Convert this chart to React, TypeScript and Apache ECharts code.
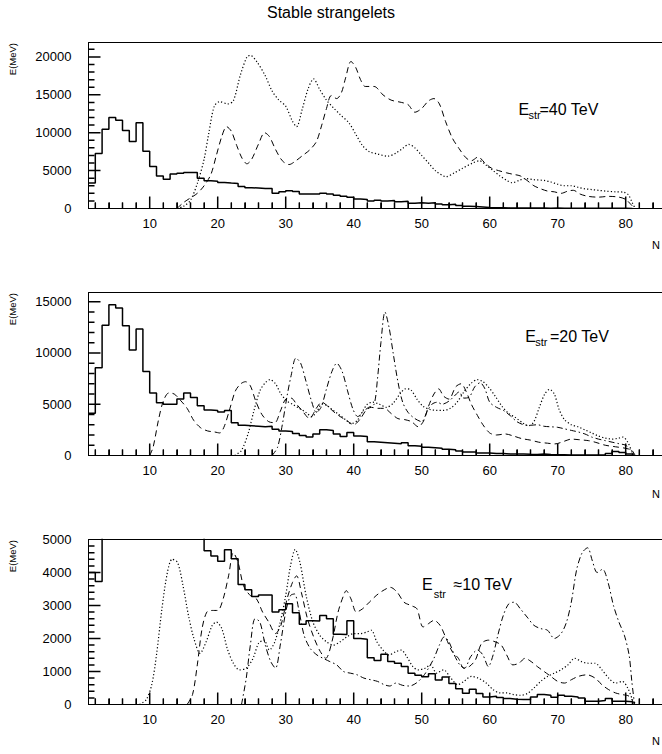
import React, { useEffect, useRef } from "react";
import * as echarts from "echarts";

// ---------- DATA ----------
const FIRST_BIN = 1; // left edge of first histogram bin (N)

// solid histograms (bin N = FIRST_BIN + index)
const hist40 = [3350, 7250, 10450, 12000, 11650, 10300, 8850, 11300, 7550, 5550, 4300, 3870, 4550, 4650, 4750, 4750, 4000, 3650, 3600, 3420, 3350, 3300, 2900, 2750, 2700, 2650, 2650, 2000, 2200, 2350, 2250, 1900, 1900, 1900, 2000, 1900, 1750, 1600, 1500, 1250, 1200, 1000, 1100, 1000, 1050, 900, 950, 700, 750, 700, 750, 600, 500, 550, 400, 300, 250, 200, 120, 100, 100, 80, 80, 60, 60, 50, 60, 40, 50, 40, 40, 30, 30, 20, 20, 30, 20, 20, 20, 10];
const hist20 = [4130, 8550, 12700, 14700, 14400, 12650, 10300, 12350, 8200, 6100, 5150, 5000, 5000, 5500, 6100, 5650, 4850, 4450, 4400, 4250, 4400, 3200, 2950, 2900, 2850, 2800, 2850, 2550, 2400, 2350, 2150, 1950, 1800, 2100, 2500, 2450, 2100, 1850, 2250, 1900, 1850, 1350, 1300, 1250, 1200, 1150, 1250, 950, 900, 800, 750, 700, 600, 550, 450, 350, 350, 250, 250, 200, 200, 150, 150, 150, 120, 100, 150, 100, 80, 80, 60, 60, 50, 40, 40, 60, 200, 400, 300, 150];
const hist10 = [4000, 3730, 7000, 9500, 10500, 10000, 9000, 8500, 8800, 7500, 6800, 6300, 6000, 5800, 5600, 5400, 5200, 4660, 4500, 4340, 4690, 4420, 3640, 3480, 3270, 3320, 3320, 2800, 2870, 3050, 2780, 2430, 2540, 2530, 2700, 2600, 2130, 2120, 2540, 2000, 1980, 1420, 1330, 1520, 1300, 1250, 1150, 950, 890, 840, 930, 740, 830, 640, 480, 340, 460, 330, 230, 250, 210, 180, 160, 150, 150, 230, 300, 280, 220, 280, 250, 230, 200, 100, 100, 120, 180, 100, 100, 80];

// panel 1 (40 TeV) curves [N, E]
const dotted40 = [[14,0],[15,300],[16,1100],[17,3300],[18,6500],[18.7,10000],[19.5,13500],[20.3,14100],[21.5,13800],[22.3,14200],[23.3,17500],[24.3,20000],[24.8,20200],[25.8,19300],[27,17500],[28,15500],[29,14300],[30,13500],[31,11500],[31.6,10800],[32.4,13000],[33.3,15800],[34.1,17100],[35,15700],[36,14300],[37,13300],[38,12400],[39.3,11300],[40.3,9800],[41.3,8300],[42.3,7500],[43.5,7200],[45,6900],[46.2,7300],[47.3,8000],[48.1,8450],[49,8000],[50,7000],[51,6000],[52,5000],[53.6,4200],[54.8,4700],[56,5300],[57.5,6000],[58.5,6300],[59.5,5700],[60.5,5000],[61.5,4300],[62.5,3700],[63.3,3400],[64.3,3700],[65.2,3950],[66.5,3800],[68,3700],[69,3500],[70,3200],[71,3000],[72,3000],[73,2800],[74,2600],[75,2500],[76,2400],[77,2300],[78.5,2200],[79.7,2150],[80.4,1800],[81,700],[81.4,0]];
const dashed40 = [[14,0],[15,800],[16,1400],[17,2000],[18,3000],[19,4500],[19.8,7000],[20.6,9500],[21.3,10800],[22,10200],[22.8,8300],[23.6,6600],[24.3,5900],[25,6500],[26,8500],[26.9,10000],[27.6,9500],[28.5,7800],[29.5,6300],[30.5,5800],[31.5,6300],[32.5,7000],[33.5,7700],[34.5,8800],[35.3,11000],[36,13200],[36.7,14900],[37.5,14500],[38.2,15300],[38.8,17200],[39.6,19400],[40.3,18600],[41,17000],[41.7,16100],[43,16100],[44.3,15000],[45.5,14300],[47,14000],[48,13700],[49,12700],[50,13200],[51,14200],[51.8,14500],[52.6,13800],[53.5,11500],[54.5,9300],[55.5,7900],[56.5,6700],[57.3,6300],[58.3,6800],[59.3,6000],[60.3,5300],[61.3,5000],[62.5,4700],[63.5,4500],[64.5,4300],[65.5,3700],[66.5,3000],[67.5,2600],[68.5,2300],[69.5,2200],[70.5,2000],[71.5,2300],[72.3,2400],[73.3,1900],[74.5,1600],[76,1500],[77.5,1600],[79,1500],[80,1200],[80.8,500],[81.3,0]];

// panel 2 (20 TeV) curves
const dashed20 = [[10,0],[10.5,800],[11.3,3500],[12,5300],[12.8,6100],[13.6,6000],[14.5,5400],[15.5,4600],[16.5,3400],[17.5,2700],[18.5,2400],[19.5,2300],[20.3,2200],[21,2900],[21.8,4600],[22.6,6300],[23.4,7000],[24.1,7200],[24.8,6800],[25.6,5300],[26.5,4000],[27.5,3300],[28.4,3200],[29.2,4300],[30,5500],[30.8,5600],[31.6,5000],[32.5,4300],[33.5,3600],[34.5,4600],[35.3,5200],[36.2,4800],[37,4300],[38,3800],[39,3400],[40,3000],[41,3600],[41.8,4400],[42.6,4700],[43.5,4600],[44.5,4600],[45.5,4100],[46.5,3600],[47.5,3500],[48.5,3300],[49.5,2800],[50.3,3400],[51,4800],[51.8,6000],[52.5,6500],[53.2,5800],[54,5500],[55,6700],[55.8,7000],[56.5,6300],[57.3,5000],[58.2,3900],[59,3000],[60,2200],[61,2000],[62.3,2100],[63.5,1900],[64.7,1650],[66,1500],[67.2,1300],[68.5,1200],[69.6,1130],[71,1400],[72,1600],[73,1550],[74.5,1450],[75.5,1300],[77,1000],[78.5,850],[80,700],[80.9,500],[81.4,0]];
const dotted20 = [[22.5,0],[23.5,500],[24.5,2200],[25.3,4300],[26.2,6300],[27,7100],[27.7,7400],[28.5,7000],[29.3,6000],[30.2,5300],[31,5000],[32,4600],[33,4200],[33.8,3800],[34.6,4300],[35.3,5000],[36,4900],[36.8,4500],[37.8,4000],[38.8,3500],[39.6,3100],[40.5,3400],[41.3,4300],[42,5000],[42.8,5200],[43.8,5000],[44.8,4700],[45.8,5100],[46.8,6000],[47.6,6500],[48.4,6400],[49.3,5500],[50.2,4800],[51.2,4500],[52.2,4400],[53.2,4400],[54.2,4600],[55.2,5200],[56.2,6200],[57.2,7000],[58.2,7400],[59,7200],[59.8,6700],[60.8,5800],[61.8,4800],[62.8,4100],[63.8,3700],[64.8,3200],[65.7,2900],[66.5,3300],[67.3,4700],[68.1,6000],[68.8,6450],[69.5,6000],[70.2,4500],[71,3500],[72,3000],[73,2800],[74,2500],[75,2200],[76,1900],[77,1700],[78,1600],[79,1700],[79.6,1800],[80.3,1300],[80.9,400],[81.3,0]];
const dashdot20 = [[28,0],[28.8,800],[29.5,3000],[30.2,5800],[30.8,7800],[31.5,9500],[32.2,9000],[33,7200],[33.8,5300],[34.5,4200],[35.2,4700],[36,6500],[36.8,8200],[37.5,9000],[38.3,8200],[39.1,6300],[39.9,4500],[40.6,3800],[41.4,4300],[42.2,4700],[43,5000],[43.5,7500],[44,11000],[44.6,14000],[45.2,12500],[45.8,10000],[46.5,7200],[47.2,5200],[48,4200],[49,3600],[50,3300],[50.8,4300],[51.5,5000],[52.3,5200],[53,5000],[54,5300],[54.8,5800],[55.5,6200],[56.2,5600],[57,5700],[57.8,6700],[58.6,7100],[59.3,6500],[60,5200],[61,4700],[62,4400],[63,3900],[64,3300],[65,3000],[66,2950],[67,3000],[68,2850],[69,2800],[70,2750],[71,2600],[72,2450],[73,2300],[74,2100],[75,1800],[76,1600],[77,1450],[78,1300],[79,1150],[80,1000],[80.6,600],[81.2,0]];

// panel 3 (10 TeV) curves
const dotted10 = [[8.5,0],[9.5,150],[10.3,600],[11,1500],[11.8,2900],[12.6,4000],[13.3,4400],[14.1,4300],[14.9,3600],[15.7,2700],[16.5,2000],[17.4,1550],[18.3,1900],[19.2,2400],[19.8,2500],[20.6,2300],[21.4,1700],[22.3,1250],[23.2,1050],[24.2,1100],[25.2,1400],[26,1850],[26.8,1950],[27.6,1650],[28.4,1900],[29.2,2500],[30,3300],[30.7,4200],[31.4,4700],[32.1,4300],[33,3300],[34,2500],[35,2100],[36,1900],[37,1800],[38,1900],[39,2050],[40,2150],[41,2150],[42,2200],[42.6,2250],[43.4,1900],[44.3,1650],[45.2,1500],[46.2,1600],[47,1650],[47.8,1450],[48.7,1150],[49.5,1050],[50.5,1100],[51.3,1200],[52.2,950],[53.2,1050],[54.3,800],[55.3,600],[56.2,700],[57.3,850],[58.3,800],[59.5,650],[60.5,450],[61.5,350],[62.5,350],[63.5,300],[64.5,280],[65.5,330],[66.5,500],[67.5,700],[68.5,850],[69.5,950],[70.5,1050],[71.5,1200],[72.5,1400],[73.5,1300],[74.5,1250],[75.5,1250],[76.5,1050],[77.5,800],[78.5,650],[79.5,700],[80.3,500],[81,150],[81.5,0]];
const dashed10 = [[15.5,0],[16.3,300],[17,1200],[17.7,2300],[18.4,2800],[19.2,2850],[20,2850],[20.8,3200],[21.6,3900],[22.3,4600],[23,4300],[23.8,3600],[24.8,3300],[25.7,3200],[26.6,2800],[27.5,2500],[28.5,2150],[29.3,2400],[30.2,3200],[31,3700],[31.6,3900],[32.3,3400],[33.2,2600],[34.2,2000],[35.1,1600],[35.9,1400],[36.8,1900],[37.7,2800],[38.5,3300],[38.9,3450],[39.6,3200],[40.4,2800],[41.3,2900],[42.3,3100],[43.3,3300],[44.3,3450],[45.4,3550],[46.4,3400],[47.4,3100],[48.4,3000],[49.3,2900],[50.2,2350],[51,2450],[51.8,2550],[52.7,2400],[53.6,2000],[54.5,1600],[55.4,1400],[56.2,1100],[57,1150],[57.9,1350],[58.8,1850],[59.8,1950],[60.8,1900],[61.7,1800],[62.5,1500],[63.4,1200],[64.3,1250],[65.2,1400],[66.1,1300],[67,1150],[68,1000],[69,850],[70,700],[71,650],[72,750],[73,850],[74.3,900],[75.5,800],[76.5,600],[77.5,450],[78.5,350],[79.5,300],[80.5,250],[81.3,0]];
const dashdot10 = [[23.5,0],[24.2,800],[24.8,1800],[25.5,2600],[26.2,2500],[27,1800],[27.8,1300],[28.5,1100],[29.2,1800],[30,2800],[30.7,3300],[31.3,3350],[31.9,2900],[32.7,2100],[33.6,1700],[34.6,1500],[35.5,1400],[36.5,1300],[37.5,1200],[38.5,1000],[39.5,950],[40.5,900],[41.5,800],[42.5,750],[43.5,700],[44.5,600],[45.3,560],[46.2,650],[47.2,580],[48.2,560],[49.2,650],[50.2,850],[51,1100],[51.8,1400],[52.6,1800],[53.3,2050],[54,1900],[54.8,1500],[55.6,1200],[56.3,1100],[57.2,1450],[58.2,1650],[59,1500],[59.8,1150],[60.5,1500],[61.2,2100],[62,2700],[62.8,3050],[63.6,3100],[64.5,2900],[65.5,2650],[66.5,2400],[67.5,2300],[68.5,2250],[69.5,2000],[70.5,2150],[71.3,2500],[72,3100],[72.8,4100],[73.6,4600],[74.4,4750],[75.1,4350],[75.8,4000],[76.6,4100],[77.4,3700],[78.2,3000],[79,2500],[79.8,2100],[80.5,1500],[80.9,700],[81.3,0]];

// axes / ticks
const X_MIN = 1;
const X_MAX = 90;
const xTickLabels = [10, 20, 30, 40, 50, 60, 70, 80];
const xMinorTicks = [2, 4, 6, 8, 12, 14, 16, 18, 22, 24, 26, 28, 32, 34, 36, 38, 42, 44, 46, 48, 52, 54, 56, 58, 62, 64, 66, 68, 72, 74, 76, 78, 82, 84, 86, 88];
const yTickLabels = [
  [0, 5000, 10000, 15000, 20000],
  [0, 5000, 10000, 15000],
  [0, 1000, 2000, 3000, 4000, 5000],
];
const yMax = [21900, 15900, 5000];
const yMinorStep = [1000, 1000, 200];
const panelLabels = ["=40 TeV", "=20 TeV", "\u224810 TeV"];
const titleText = "Stable strangelets";

const FONT = '"Liberation Sans", Arial, Helvetica, sans-serif';

function histPoints(h: number[]) {
  const pts = h.map((v, i) => [FIRST_BIN + i, v]);
  pts.push([FIRST_BIN + h.length, 0]);
  return pts;
}

export default function App() {
  const ref = useRef<HTMLDivElement>(null);
  useEffect(() => {
    if (!ref.current) return;
    const chart = echarts.init(ref.current, undefined, { renderer: "svg" });

    const PX_PER_N = 6.8;
    const LEFT = 88.5; // pixel of N = X_MIN
    const panels = [
      { top: 42.5, height: 166 },
      { top: 292.5, height: 163 },
      { top: 539.5, height: 165 },
    ];
    const fmt = (v: number) => String(v);
    const axLine = { color: "#000", width: 1 };

    const grids = panels.map((pn) => ({
      left: LEFT, top: pn.top, width: (X_MAX - X_MIN) * PX_PER_N, height: pn.height,
      show: true, borderColor: "#000", borderWidth: 1, backgroundColor: "transparent",
      outerBoundsMode: "none", containLabel: false,
    }));
    const xAxis = panels.map((_, p) => ({
      type: "value", gridIndex: p, min: X_MIN, max: X_MAX, position: "bottom",
      axisLine: { show: true, lineStyle: axLine },
      axisTick: { show: true, inside: true, length: 6, customValues: xMinorTicks.concat(xTickLabels), lineStyle: { color: "#000", width: 1 } },
      axisLabel: { show: true, customValues: xTickLabels, formatter: fmt, margin: 8, fontSize: 13, color: "#000", fontFamily: FONT },
      splitLine: { show: false },
    }));
    const yAxis = panels.map((_, p) => ({
      type: "value", gridIndex: p, min: 0, max: yMax[p], position: "left",
      axisLine: { show: true, lineStyle: axLine }, axisTick: { show: false },
      axisLabel: { show: true, customValues: yTickLabels[p], formatter: fmt, margin: 17, fontSize: 13, color: "#000", fontFamily: FONT },
      splitLine: { show: false },
    }));

    const DOT = [1.2, 2.2];
    const DASH = [6, 4];
    const DASHDOT = [6, 3, 1.5, 3];

    const curve = (data: number[][], type: any, p: number, w = 1) => ({
      type: "line", xAxisIndex: p, yAxisIndex: p, data, smooth: 0.3,
      symbol: "none", silent: true, clip: true,
      lineStyle: { color: "#000", width: w, type },
    });
    const hist = (h: number[], p: number) => ({
      type: "line", xAxisIndex: p, yAxisIndex: p, data: histPoints(h), step: "end",
      symbol: "none", silent: true, clip: true,
      lineStyle: { color: "#000", width: 1.5 },
    });

    const series: any[] = [
      hist(hist40, 0), curve(dotted40, DOT, 0, 1.2), curve(dashed40, DASH, 0),
      hist(hist20, 1), curve(dashed20, DASH, 1), curve(dotted20, DOT, 1, 1.2), curve(dashdot20, DASHDOT, 1),
      hist(hist10, 2), curve(dotted10, DOT, 2, 1.2), curve(dashed10, DASH, 2), curve(dashdot10, DASHDOT, 2),
    ];

    // tick marks inside the frame: short segments of a line series (gaps between ticks)
    panels.forEach((pn, p) => {
      const yPerPx = yMax[p] / pn.height;
      const nPerPx = 1 / PX_PER_N;
      const pts: any[] = [];
      const xTick = (v: number, lenPx: number) => { pts.push([v, 0], [v, lenPx * yPerPx], [v, "-"]); };
      const yTick = (v: number, lenPx: number) => { pts.push([X_MIN, v], [X_MIN + lenPx * nPerPx, v], ["-", v]); };
      xTickLabels.forEach((v) => xTick(v, 12));
      xMinorTicks.forEach((v) => xTick(v, 6));
      yTickLabels[p].filter((v) => v > 0 && v < yMax[p]).forEach((v) => yTick(v, 12));
      for (let v = yMinorStep[p]; v < yMax[p]; v += yMinorStep[p]) {
        if (!yTickLabels[p].includes(v)) yTick(v, 6);
      }
      series.push({
        type: "line", xAxisIndex: p, yAxisIndex: p, data: pts, symbol: "none", silent: true,
        clip: false, connectNulls: false, smooth: false, z: 5,
        lineStyle: { color: "#000", width: 1.5, type: "solid" },
      });
    });

    const txt = (text: string, x: number, y: number, size: number, align = "left", extra: any = {}) => ({
      type: "text", x, y, z: 100, ...extra,
      style: { text, fill: "#000", fontSize: size, fontFamily: FONT, align, verticalAlign: "middle", textAlign: align, textVerticalAlign: "middle" },
    });

    const labelPos = [
      { e: [518.5, 109.7], s: [528.5, 114.5], r: [539.5, 109.7] },
      { e: [525.3, 336.7], s: [535.3, 341.5], r: [550, 336.7] },
      { e: [422, 584.2], s: [433.7, 594], r: [453.5, 584.2] },
    ];
    const texts: any[] = [];
    texts.push(txt(titleText, 331, 12, 16, "center"));
    labelPos.forEach((lp, p) => {
      texts.push(txt("E", lp.e[0], lp.e[1], 16));
      texts.push(txt("str", lp.s[0], lp.s[1], 11));
      texts.push(txt(panelLabels[p], lp.r[0], lp.r[1], 16));
    });
    [43, 293, 540].forEach((y) => {
      texts.push(txt("E(MeV)", 12.5, y, 9.5, "right", { rotation: Math.PI / 2 }));
    });
    [245, 494, 741].forEach((y) => {
      texts.push(txt("N", 652, y, 11));
    });

    chart.setOption({
      animation: false,
      backgroundColor: "#fff",
      grid: grids,
      xAxis,
      yAxis,
      series,
      graphic: texts,
    });

    return () => chart.dispose();
  }, []);
  return <div ref={ref} style={{ position: "fixed", left: 0, top: 0, width: 662, height: 754, background: "#fff" }} />;
}
